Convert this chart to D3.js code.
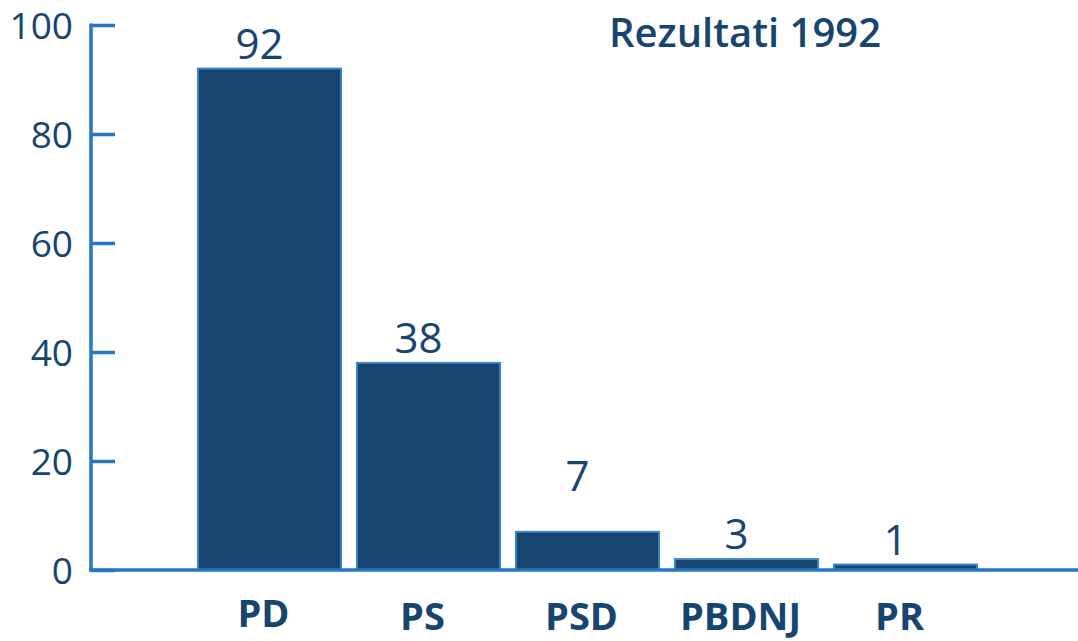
<!DOCTYPE html>
<html>
<head>
<meta charset="utf-8">
<script src="https://cdn.jsdelivr.net/npm/d3@7"></script>
<style>
  body { margin: 0; background: #fff; }
  text { font-family: "Open Sans", Lato, sans-serif; fill: #17456f; }
</style>
</head>
<body>
<div id="chart"></div>
<script>
// DATA
var parties = ["PD", "PS", "PSD", "PBDNJ", "PR"];
var seats = [92, 38, 7, 2, 1];
var seatLabels = ["92", "38", "7", "3", "1"];
var yTicks = [0, 20, 40, 60, 80, 100];
var title = "Rezultati 1992";

// DIMENSIONS
var w = 1078,
    h = 641;

var fill = "#17456f",
    edge = "#3b87c9",
    axisColor = "#2677c2";

var svg = d3.select("#chart").append("svg")
  .attr("width", w)
  .attr("height", h);

// SCALES
var yScale = d3.scaleLinear()
  .domain([0, 100])
  .range([570, 25]);

var xScale = d3.scaleBand()
  .domain(parties)
  .range([190, 985])
  .paddingInner(0.1)
  .paddingOuter(0.05);

// Y AXIS (ticks point inward)
var yAxis = d3.axisRight(yScale)
  .tickValues(yTicks)
  .tickSize(24)
  .tickFormat(function(d) { return d; });

var yg = svg.append("g")
  .attr("transform", "translate(91,0)")
  .call(yAxis);
yg.select(".domain").remove();
yg.selectAll(".tick line")
  .attr("stroke", axisColor)
  .attr("stroke-width", 3.5);
yg.selectAll(".tick text")
  .attr("x", -18)
  .attr("dy", "0.36em")
  .attr("text-anchor", "end")
  .style("font-size", "37px")
  .attr("fill", fill);

// vertical axis line
svg.append("line")
  .attr("x1", 91).attr("x2", 91)
  .attr("y1", yScale(100) - 1.5).attr("y2", yScale(0))
  .attr("stroke", axisColor)
  .attr("stroke-width", 3.5);

// BARS
svg.selectAll(".bar")
  .data(parties)
  .enter().append("rect")
    .attr("class", "bar")
    .attr("x", function(d) { return xScale(d); })
    .attr("y", function(d, i) { return yScale(seats[i]); })
    .attr("width", xScale.bandwidth())
    .attr("height", function(d, i) { return yScale(0) - yScale(seats[i]); })
    .attr("fill", fill)
    .attr("stroke", edge)
    .attr("stroke-width", 2);

// X AXIS LINE
svg.append("line")
  .attr("x1", 89).attr("x2", w)
  .attr("y1", yScale(0)).attr("y2", yScale(0))
  .attr("stroke", axisColor)
  .attr("stroke-width", 3.5);

// VALUE LABELS (the "7" sits higher in the original)
svg.selectAll(".value")
  .data(parties)
  .enter().append("text")
    .attr("class", "value")
    .attr("x", function(d) { return xScale(d) + xScale.bandwidth() / 2 - 10; })
    .attr("y", function(d, i) { return yScale(seats[i]) - (i === 2 ? 41 : 10); })
    .attr("text-anchor", "middle")
    .style("font-size", "42px")
    .text(function(d, i) { return seatLabels[i]; });

// CATEGORY LABELS
svg.selectAll(".cat")
  .data(parties)
  .enter().append("text")
    .attr("class", "cat")
    .attr("x", function(d) { return xScale(d) + xScale.bandwidth() / 2 - 6; })
    .attr("y", function(d, i) { return i === 0 ? 627 : 630; })
    .attr("text-anchor", "middle")
    .style("font-size", "38px")
    .style("font-weight", "bold")
    .text(function(d) { return d; });

// TITLE
svg.append("text")
  .attr("x", 745)
  .attr("y", 47)
  .attr("text-anchor", "middle")
  .style("font-size", "40px")
  .style("font-weight", "600")
  .text(title);
</script>
</body>
</html>
